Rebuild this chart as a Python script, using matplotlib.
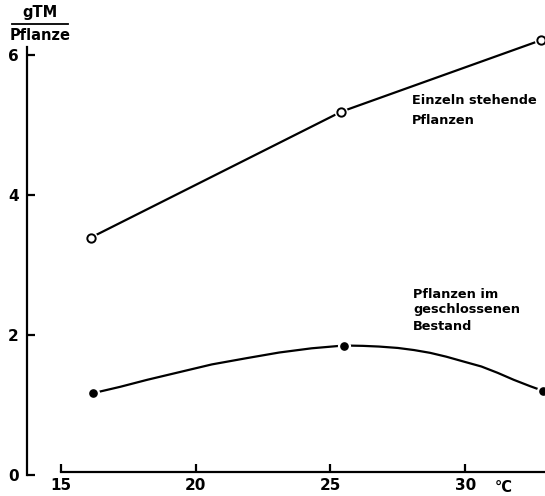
import matplotlib
matplotlib.use("Agg")
import matplotlib.pyplot as plt

# --- data ---
temp_single = [16.1, 25.4, 32.8]
dm_single = [3.39, 5.19, 6.21]

temp_stand_pts = [16.2, 25.5, 32.9]
dm_stand_pts = [1.17, 1.85, 1.20]

# traced curve of the closed-stand series
temp_stand_curve = [16.2, 17.2, 18.2, 19.4, 20.6, 21.9, 23.1, 24.3, 25.5, 26.2, 26.8,
                    27.5, 28.1, 28.7, 29.3, 29.9, 30.6, 31.2, 31.8, 32.4, 32.9]
dm_stand_curve = [1.17, 1.26, 1.36, 1.47, 1.58, 1.67, 1.75, 1.81, 1.85, 1.845, 1.835,
                  1.815, 1.785, 1.745, 1.69, 1.625, 1.55, 1.46, 1.36, 1.27, 1.20]

xticks = [15, 20, 25, 30]
yticks = [0, 2, 4, 6]

W, H = 545, 496
fig = plt.figure(figsize=(W / 100, H / 100), dpi=100)
ax = fig.add_axes([27 / W, 21 / H, 518 / W, 475 / H])
ax.set_xlim(13.74, 32.96)
ax.set_ylim(0, 6.786)

lw = 1.6
for s in ("top", "right"):
    ax.spines[s].set_visible(False)
ax.spines["left"].set_bounds(0, 6.11)
ax.spines["left"].set_linewidth(lw)
ax.spines["bottom"].set_position(("data", 0.04))
ax.spines["bottom"].set_bounds(15, 32.96)
ax.spines["bottom"].set_linewidth(lw)

ax.set_xticks(xticks)
ax.set_yticks(yticks)
ax.tick_params(axis="both", direction="in", length=6, width=lw, labelsize=11, colors="black")
ax.tick_params(axis="x", pad=4)
ax.tick_params(axis="y", pad=6)
for lab in ax.get_xticklabels() + ax.get_yticklabels():
    lab.set_fontweight("bold")

# upper series: open circles, straight segments
ax.plot(temp_single, dm_single, color="black", lw=lw, solid_capstyle="butt", zorder=2)
ax.plot(temp_single, dm_single, ls="none", marker="o", ms=8.5, mfc="white", mec="white", zorder=3, clip_on=False)
ax.plot(temp_single, dm_single, ls="none", marker="o", ms=6, mfc="white", mec="black", mew=1.4, zorder=4, clip_on=False)

# lower series: smooth curve, filled dots
ax.plot(temp_stand_curve, dm_stand_curve, color="black", lw=lw, zorder=2)
ax.plot(temp_stand_pts, dm_stand_pts, ls="none", marker="o", ms=8.5, mfc="white", mec="white", zorder=3, clip_on=False)
ax.plot(temp_stand_pts, dm_stand_pts, ls="none", marker="o", ms=5.2, mfc="black", mec="black", zorder=4, clip_on=False)

def ftext(px, py, s, **kw):
    fig.text(px / W, 1 - py / H, s, **kw)

tk = dict(fontsize=9.3, fontweight="bold", color="black", va="center", ha="left")
ftext(412, 101, "Einzeln stehende", **tk)
ftext(412, 120, "Pflanzen", **tk)
ftext(413, 294, "Pflanzen im", **tk)
ftext(413, 310, "geschlossenen", **tk)
ftext(413, 326, "Bestand", **tk)

ftext(504, 487, "°C", fontsize=10.5, fontweight="bold", ha="center", va="center")

# y unit label: gTM / Pflanze
ftext(40, 13, "gTM", fontsize=10.5, fontweight="bold", ha="center", va="center")
fig.add_artist(plt.Line2D([12 / W, 68 / W], [1 - 24 / H, 1 - 24 / H], color="black", lw=1.3))
ftext(40, 35, "Pflanze", fontsize=10.5, fontweight="bold", ha="center", va="center")

fig.savefig("out.png", dpi=100, facecolor="white")
